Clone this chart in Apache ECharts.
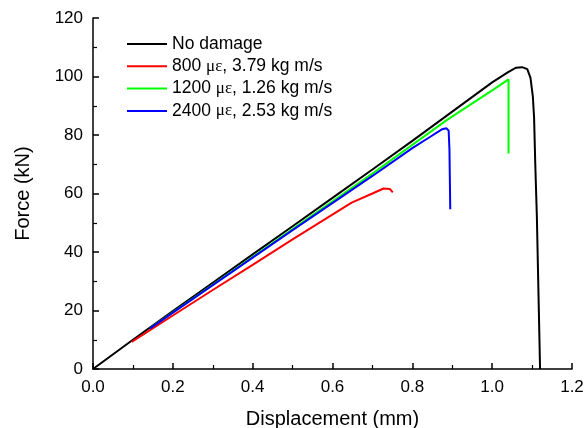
<!DOCTYPE html>
<html>
<head>
<meta charset="utf-8">
<script src="https://cdn.jsdelivr.net/npm/echarts@6/dist/echarts.min.js"></script>
<style>
  html, body { margin: 0; padding: 0; background: #fff; }
  #chart { width: 587px; height: 428px; }
</style>
</head>
<body>
<div id="chart"></div>
<script>
// values
const noDamageX = [0, 0.1, 0.2, 0.3, 0.4, 0.5, 0.6, 0.7, 0.8, 0.9, 1.0, 1.04, 1.06, 1.075, 1.088, 1.096, 1.102, 1.105, 1.108, 1.112, 1.116, 1.12]
const noDamageY = [0, 10, 19.8, 29.5, 39.2, 48.8, 58.5, 68.2, 78, 88, 98, 101.5, 103, 103.2, 102.5, 99.5, 93, 86, 70, 52, 26, 0]

const redX = [0.097, 0.2, 0.3, 0.4, 0.5, 0.648, 0.7, 0.728, 0.744, 0.751]
const redY = [9.3, 18.3, 27, 35.6, 44.3, 56.9, 60, 61.7, 61.5, 60.4]

const greenX = [0.143, 0.3, 0.5, 0.7, 0.886, 1.003, 1.041, 1.041]
const greenY = [13.9, 28.8, 47.8, 66.8, 85.1, 95.5, 99, 73.7]

const blueX = [0.143, 0.3, 0.5, 0.7, 0.8, 0.845, 0.875, 0.885, 0.891, 0.893, 0.895]
const blueY = [13.9, 28.7, 47.5, 66, 75.5, 79.4, 82, 82.3, 81.5, 75, 54.6]

const seriesNames = ['No damage', '800 {g|με}, 3.79 kg m/s', '1200 {g|με}, 1.26 kg m/s', '2400 {g|με}, 2.53 kg m/s']
const legendNames = ['s0', 's1', 's2', 's3']

const pairs = (xs, ys) => xs.map((x, i) => [x, ys[i]])

const chart = echarts.init(document.getElementById('chart'))
const font = 'Liberation Sans, Arial, sans-serif'
const axisCommon = {
  axisLine: { show: true, lineStyle: { color: '#000', width: 1.5 } },
  axisTick: { show: true, inside: true, length: 6, lineStyle: { color: '#000', width: 1.5 } },
  minorTick: { show: true, splitNumber: 2, length: 4, lineStyle: { color: '#000', width: 1.2 } },
  splitLine: { show: false },
  axisLabel: { color: '#000', fontSize: 17, fontFamily: font },
  nameTextStyle: { color: '#000', fontSize: 20, fontFamily: font }
}

chart.setOption({
  animation: false,
  grid: { left: 93, right: 15, top: 18, bottom: 59, outerBoundsMode: 'none', containLabel: false },
  legend: {
    orient: 'vertical',
    left: 127,
    top: 35,
    padding: 0,
    itemWidth: 40,
    itemHeight: 2,
    itemGap: 4.3,
    icon: 'rect',
    data: legendNames,
    formatter: (n) => seriesNames[legendNames.indexOf(n)],
    textStyle: {
      color: '#000', fontSize: 17.5, fontFamily: font,
      rich: { g: { fontSize: 17, fontFamily: 'Liberation Serif, serif', color: '#000' } }
    }
  },
  xAxis: Object.assign({}, axisCommon, {
    type: 'value', min: 0, max: 1.2, interval: 0.2,
    name: 'Displacement (mm)', nameLocation: 'middle', nameGap: 40,
    axisLabel: Object.assign({}, axisCommon.axisLabel, { formatter: (v) => v.toFixed(1), margin: 10 })
  }),
  yAxis: Object.assign({}, axisCommon, {
    type: 'value', min: 0, max: 120, interval: 20,
    name: 'Force (kN)', nameLocation: 'middle', nameGap: 60, nameRotate: 90,
    axisLabel: Object.assign({}, axisCommon.axisLabel, { margin: 10 })
  }),
  series: [
    { name: 's0', type: 'line', showSymbol: false, color: '#000000', lineStyle: { width: 2 }, data: pairs(noDamageX, noDamageY) },
    { name: 's2', type: 'line', showSymbol: false, color: '#00ff00', lineStyle: { width: 2 }, data: pairs(greenX, greenY) },
    { name: 's1', type: 'line', showSymbol: false, color: '#ff0000', lineStyle: { width: 2 }, data: pairs(redX, redY) },
    { name: 's3', type: 'line', showSymbol: false, color: '#0000ff', lineStyle: { width: 2 }, data: pairs(blueX, blueY) }
  ]
})
</script>
</body>
</html>
